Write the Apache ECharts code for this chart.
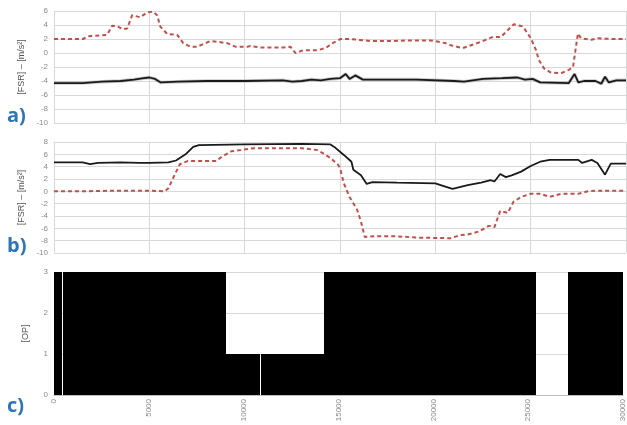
<!DOCTYPE html>
<html>
<head>
<meta charset="utf-8">
<script src="https://cdn.jsdelivr.net/npm/echarts@6/dist/echarts.min.js"></script>
<style>html,body{margin:0;padding:0;background:#fff;}#c{width:627px;height:425px;}</style>
</head>
<body>
<div id="c"></div>
<script>
// Panel a) red dashed
var redAx = [0,1520,1790,2420,2790,3050,3310,3630,3840,4100,4520,4890,5200,5410,5570,5940,6460,6780,7150,7510,8200,8570,9090,9510,10140,10300,10830,12030,12400,12660,13090,13820,14240,14610,15030,15550,16610,17660,18710,19760,20550,20810,21440,22390,23020,23440,23810,24120,24590,25010,25280,25430,25700,26060,26590,27010,27220,27480,27640,28170,28530,29220,30000];
var redAy = [2.0,2.0,2.4,2.5,2.6,3.9,3.8,3.4,3.5,5.4,5.1,5.8,5.9,5.4,3.8,2.7,2.6,1.4,0.9,0.9,1.7,1.6,1.4,0.9,0.9,1.0,0.8,0.8,0.9,0.0,0.4,0.4,0.7,1.4,2.0,2.0,1.7,1.7,1.8,1.8,1.4,1.1,0.7,1.6,2.3,2.3,3.3,4.1,3.8,2.1,0.4,-1.0,-2.2,-2.8,-2.9,-2.4,-2.0,2.8,2.1,1.9,2.1,2.0,2.0];
// Panel a) black solid
var blkAx = [0,1500,2500,3500,4200,4700,5000,5300,5600,6500,8000,10000,12000,12500,13000,13500,14000,14500,15000,15300,15500,15800,16200,17000,19000,21000,21500,22500,23500,24300,24700,25100,25500,27000,27300,27500,27800,28400,28700,28900,29100,29500,30000];
var blkAy = [-4.3,-4.3,-4.1,-4.0,-3.8,-3.6,-3.5,-3.7,-4.2,-4.1,-4.0,-4.0,-3.9,-4.1,-4.0,-3.8,-3.9,-3.7,-3.6,-3.0,-3.7,-3.2,-3.8,-3.8,-3.8,-4.0,-4.1,-3.7,-3.6,-3.5,-3.8,-3.7,-4.2,-4.3,-3.0,-4.2,-4.0,-4.0,-4.4,-3.4,-4.2,-3.9,-3.9];
// Panel b) black solid
var blkBx = [0,1500,1900,2300,3500,4500,5000,6000,6400,6900,7300,7600,10000,13000,14500,14700,15200,15600,15700,16100,16400,16700,18000,20000,20400,20900,21700,22400,22900,23100,23400,23700,24000,24500,25000,25500,26000,27500,27700,28200,28500,28900,29200,30000];
var blkBy = [4.7,4.7,4.4,4.6,4.7,4.6,4.6,4.7,5.0,6.0,7.2,7.5,7.6,7.7,7.6,7.2,5.9,4.8,3.5,2.6,1.2,1.5,1.4,1.3,0.9,0.4,1.0,1.4,1.8,1.6,2.8,2.3,2.6,3.2,4.1,4.8,5.1,5.1,4.6,5.1,4.6,2.7,4.5,4.5];
// Panel b) red dashed
var redBx = [0,1500,3000,5000,5800,6000,6300,6600,7000,8500,8800,9300,9800,10500,13000,13800,14100,14500,14900,15000,15200,15500,15900,16100,16300,16800,18000,19000,20800,21300,21700,22300,22800,23100,23400,23800,24100,24500,25000,25500,26000,26600,27500,28000,28500,30000];
var redBy = [0.0,0.0,0.1,0.1,0.0,0.5,2.5,4.4,4.9,4.9,5.6,6.5,6.7,7.0,7.0,6.7,6.2,5.4,4.3,3.8,1.3,-0.9,-3.0,-4.9,-7.4,-7.3,-7.3,-7.5,-7.6,-7.1,-7.0,-6.5,-5.6,-5.8,-3.2,-3.5,-1.7,-0.9,-0.4,-0.4,-0.9,-0.4,-0.4,0.0,0.1,0.1];
// Panel c) OP level blocks: start, end, level
var opStart = [0,470,9050,10900,14250,27100];
var opEnd   = [420,9050,10850,14250,25400,30000];
var opLevel = [3,3,1,1,3,3];

function zip(xs, ys){ return xs.map(function(x,i){ return [x, ys[i]]; }); }

var chart = echarts.init(document.getElementById('c'));
var gridC = '#d9d9d9';
var lab = {fontSize: 8, color: '#8a8a8a', fontFamily: 'Liberation Sans'};
function yAx(idx, min, max, itv, name){
  return {type:'value', gridIndex: idx, min: min, max: max, interval: itv,
    name: name, nameLocation:'middle', nameRotate: 90, nameGap: 24,
    nameTextStyle:{fontSize: 9, color:'#555', fontFamily:'Liberation Sans'},
    axisLine:{show:false}, axisTick:{show:false},
    axisLabel: Object.assign({margin: 6}, lab),
    splitLine:{show:true, lineStyle:{color: gridC, width:1}}};
}
function xAx(idx, showLab, showSplit){
  return {type:'value', gridIndex: idx, min: 0, max: 30000, interval: 5000,
    axisLine:{show: showLab, lineStyle:{color:'#bfbfbf'}}, axisTick:{show:false},
    axisLabel: Object.assign({show: showLab, rotate: 90, margin: 4, formatter: function(v){ return String(v); }}, lab),
    splitLine:{show: showSplit, lineStyle:{color: gridC, width:1}}};
}
var redStyle = {color:'#c0504d', width: 2, type: [4,3]};
var blkStyle = {color:'#1a1a1a', width: 1.8};

var opData = opStart.map(function(s,i){ return [s, opEnd[i], opLevel[i]]; });

chart.setOption({
  animation: false,
  backgroundColor: '#ffffff',
  grid: [
    {left: 54, right: 1, top: 11, height: 112},
    {left: 54, right: 1, top: 142, height: 111},
    {left: 54, right: 1, top: 272, height: 123}
  ],
  xAxis: [xAx(0,false,true), xAx(1,false,true), xAx(2,true,false)],
  yAxis: [yAx(0,-10,6,2,'[FSR] – [m/s²]'), yAx(1,-10,8,2,'[FSR] – [m/s²]'), yAx(2,0,3,1,'[OP]')],
  series: [
    {type:'line', xAxisIndex:0, yAxisIndex:0, data: zip(blkAx, blkAy), showSymbol:false, symbol:'none',
      lineStyle:{color:'#9a9a9a', width:3.5, opacity:0.5}, z:1, silent:true},
    {type:'line', xAxisIndex:0, yAxisIndex:0, data: zip(blkAx, blkAy), showSymbol:false, symbol:'none', lineStyle: blkStyle, z:2},
    {type:'line', xAxisIndex:0, yAxisIndex:0, data: zip(redAx, redAy), showSymbol:false, symbol:'none', lineStyle: redStyle, z:3},
    {type:'line', xAxisIndex:1, yAxisIndex:1, data: zip(blkBx, blkBy), showSymbol:false, symbol:'none', lineStyle: blkStyle, z:2},
    {type:'line', xAxisIndex:1, yAxisIndex:1, data: zip(redBx, redBy), showSymbol:false, symbol:'none', lineStyle: redStyle, z:3},
    {type:'custom', xAxisIndex:2, yAxisIndex:2, data: opData, encode:{x:[0,1], y:2}, z:2,
      renderItem: function(params, api){
        var p0 = api.coord([api.value(0), api.value(2)]);
        var p1 = api.coord([api.value(1), 0]);
        var x0 = Math.round(p0[0]), x1 = Math.round(p1[0]);
        var y0 = Math.round(p0[1]), y1 = Math.round(p1[1]);
        return {type:'rect', shape:{x:x0, y:y0, width:x1-x0, height:y1-y0}, style:{fill:'#000000'}};
      }}
  ],
  graphic: [
    {type:'text', left: 7, top: 106, style:{text:'a)', fontSize: 20, fontWeight:'bold', fill:'#2e75b6', fontFamily:'Open Sans'}},
    {type:'text', left: 7, top: 236, style:{text:'b)', fontSize: 20, fontWeight:'bold', fill:'#2e75b6', fontFamily:'Open Sans'}},
    {type:'text', left: 7, top: 396, style:{text:'c)', fontSize: 20, fontWeight:'bold', fill:'#2e75b6', fontFamily:'Open Sans'}}
  ]
});
</script>
</body>
</html>
